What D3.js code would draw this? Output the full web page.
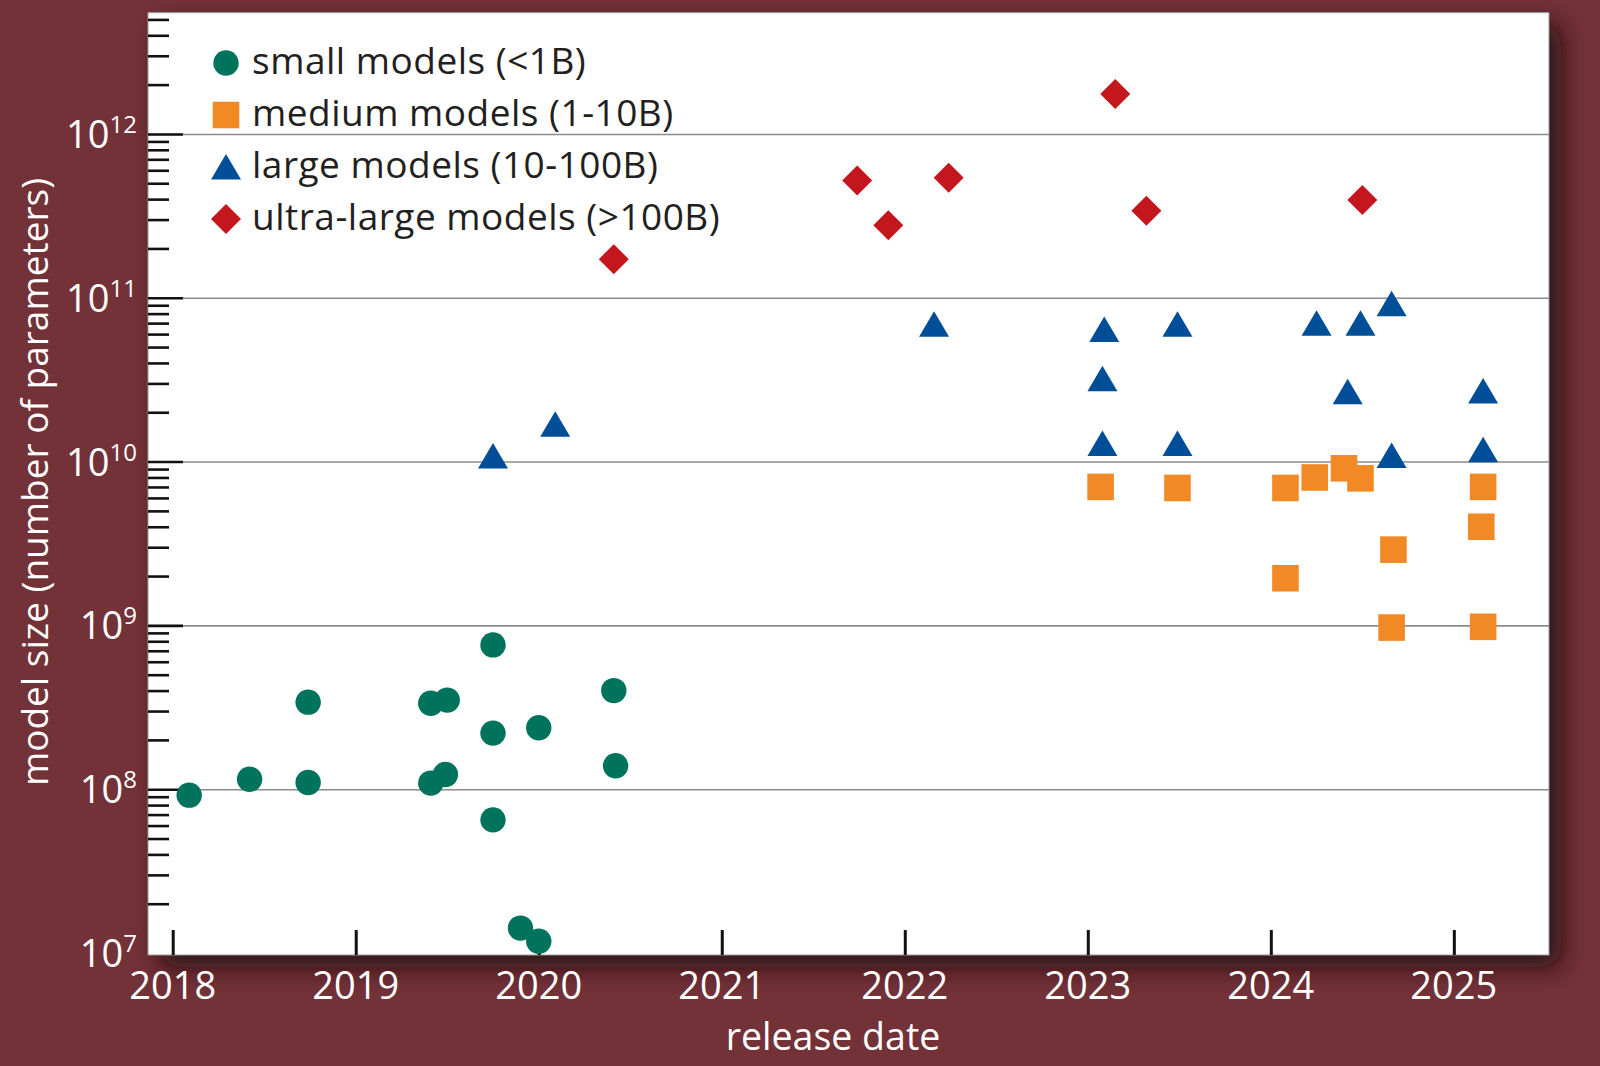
<!DOCTYPE html>
<html>
<head>
<meta charset="utf-8">
<script src="https://cdn.jsdelivr.net/npm/d3@7"></script>
<style>
  body { margin: 0; background: #733138; }
  svg { display: block; font-family: "Open Sans", sans-serif; }
</style>
</head>
<body>
<script>
// release date (decimal year), number of parameters
var smallModels = [
    [2018.09, 9.2e7], [2018.42, 1.15e8], [2018.74, 3.4e8], [2018.74, 1.1e8]
    , [2019.41, 3.35e8], [2019.50, 3.5e8], [2019.41, 1.09e8], [2019.49, 1.23e8]
    , [2019.75, 7.6e8], [2019.75, 2.2e8], [2019.75, 6.5e7], [2020.00, 2.37e8]
    , [2020.41, 4.0e8], [2020.42, 1.39e8], [2019.90, 1.42e7], [2020.00, 1.18e7]
];
var mediumModels = [
    [2023.07, 7.0e9], [2023.49, 6.9e9], [2024.08, 6.9e9], [2024.24, 8.0e9]
    , [2024.40, 9.1e9], [2024.49, 7.9e9], [2024.08, 1.94e9], [2024.67, 2.9e9]
    , [2024.66, 9.7e8], [2025.16, 7.0e9], [2025.15, 4.0e9], [2025.16, 9.8e8]
];
var largeModels = [
    [2019.75, 1.08e10], [2020.09, 1.69e10], [2022.16, 6.9e10], [2023.09, 6.4e10]
    , [2023.49, 6.9e10], [2023.08, 3.2e10], [2023.08, 1.29e10], [2023.49, 1.29e10]
    , [2024.25, 7.0e10], [2024.49, 7.0e10], [2024.66, 9.2e10], [2024.42, 2.67e10]
    , [2025.16, 2.7e10], [2024.66, 1.09e10], [2025.16, 1.18e10]
];
var ultraModels = [
    [2020.41, 1.72e11], [2021.74, 5.2e11], [2022.24, 5.4e11], [2021.91, 2.77e11]
    , [2023.15, 1.75e12], [2023.32, 3.4e11], [2024.50, 3.95e11]
];

var yearTicks = [2018, 2019, 2020, 2021, 2022, 2023, 2024, 2025];
var powerTicks = [7, 8, 9, 10, 11, 12];
var legendLabels = [
    'small models (<1B)'
    , 'medium models (1-10B)'
    , 'large models (10-100B)'
    , 'ultra-large models (>100B)'
];

var width = 1600, height = 1066;
var plotLeft = 148, plotRight = 1549, plotTop = 12.7, plotBottom = 955;

// marker shapes, centred on their bounding box
var shapes = {
    circle: function(p) { p.moveTo(12.7, 0); p.arc(0, 0, 12.7, 0, 2 * Math.PI); }
    , square: function(p) { p.rect(-13.3, -13.3, 26.6, 26.6); }
    , triangle: function(p) { p.moveTo(0, -13); p.lineTo(15, 12.5); p.lineTo(-15, 12.5); p.closePath(); }
    , diamond: function(p) { p.moveTo(0, -15); p.lineTo(15, 0); p.lineTo(0, 15); p.lineTo(-15, 0); p.closePath(); }
};
function shapePath(name) {
    var p = d3.path();
    shapes[name](p);
    return p.toString();
}

var series = [
    {data: smallModels, shape: 'circle', color: '#00735d'}
    , {data: mediumModels, shape: 'square', color: '#f18925'}
    , {data: largeModels, shape: 'triangle', color: '#004e97'}
    , {data: ultraModels, shape: 'diamond', color: '#c4171d'}
];

var x = d3.scaleLinear().domain([2017.865, 2025.52]).range([plotLeft, plotRight]);
var y = d3.scaleLog().domain([Math.pow(10, 6.988), Math.pow(10, 12.74)]).range([plotBottom, plotTop]);

var svg = d3.select('body').append('svg')
    .attr('width', width)
    .attr('height', height);

var defs = svg.append('defs');
var shadow = defs.append('filter')
    .attr('id', 'shadow')
    .attr('x', '-10%').attr('y', '-10%')
    .attr('width', '130%').attr('height', '130%');
shadow.append('feDropShadow')
    .attr('dx', 12).attr('dy', 12)
    .attr('stdDeviation', 12)
    .attr('flood-color', '#1c0709')
    .attr('flood-opacity', 0.85);

// plot panel
svg.append('rect')
    .attr('x', plotLeft).attr('y', plotTop)
    .attr('width', plotRight - plotLeft).attr('height', plotBottom - plotTop)
    .attr('fill', 'white')
    .attr('filter', 'url(#shadow)');
svg.append('rect')
    .attr('x', plotLeft).attr('y', plotTop)
    .attr('width', plotRight - plotLeft).attr('height', plotBottom - plotTop)
    .attr('fill', 'white')
    .attr('stroke', '#9a9a9a')
    .attr('stroke-width', 1);

var majors = powerTicks.map(function(p) { return Math.pow(10, p); });
var minors = y.ticks().filter(function(v) {
    var l = Math.log10(v);
    return Math.abs(l - Math.round(l)) > 1e-6;
});

// grid lines
svg.append('g')
    .attr('transform', 'translate(' + plotLeft + ',0)')
    .call(d3.axisRight(y).tickValues(majors.slice(1)).tickSize(plotRight - plotLeft).tickFormat(''))
    .call(function(g) {
        g.select('.domain').remove();
        g.selectAll('line').attr('stroke', '#8c8c8c').attr('stroke-width', 1.6);
    });

// minor and major ticks pointing into the panel
svg.append('g')
    .attr('transform', 'translate(' + plotLeft + ',0)')
    .call(d3.axisRight(y).tickValues(minors).tickSize(21).tickFormat(''))
    .call(function(g) {
        g.select('.domain').remove();
        g.selectAll('line').attr('stroke', '#111').attr('stroke-width', 2.6);
    });
svg.append('g')
    .attr('transform', 'translate(' + plotLeft + ',0)')
    .call(d3.axisRight(y).tickValues(majors.slice(1)).tickSize(35).tickFormat(''))
    .call(function(g) {
        g.select('.domain').remove();
        g.selectAll('line').attr('stroke', '#111').attr('stroke-width', 2.6);
    });

// year ticks
svg.append('g')
    .attr('transform', 'translate(0,' + plotBottom + ')')
    .call(d3.axisTop(x).tickValues(yearTicks).tickSize(25).tickFormat(''))
    .call(function(g) {
        g.select('.domain').remove();
        g.selectAll('line').attr('stroke', '#111').attr('stroke-width', 3);
    });

// tick labels
svg.append('g').selectAll('text')
    .data(yearTicks)
    .enter()
    .append('text')
    .attr('x', function(d) { return x(d); })
    .attr('y', 999)
    .attr('text-anchor', 'middle')
    .attr('fill', 'white')
    .style('font-size', '38px')
    .text(function(d) { return d; });

var yLabels = svg.append('g').selectAll('text')
    .data(powerTicks)
    .enter()
    .append('text')
    .attr('x', 137)
    .attr('y', function(d) { return y(Math.pow(10, d)) + 14; })
    .attr('text-anchor', 'end')
    .attr('fill', 'white')
    .style('font-size', '38px');
yLabels.append('tspan').text('10');
yLabels.append('tspan')
    .attr('dy', -15)
    .style('font-size', '24px')
    .text(function(d) { return d; });

// axis titles
svg.append('text')
    .attr('x', 833).attr('y', 1050)
    .attr('text-anchor', 'middle')
    .attr('fill', 'white')
    .style('font-size', '37.5px')
    .text('release date');
svg.append('text')
    .attr('transform', 'translate(48,482) rotate(-90)')
    .attr('text-anchor', 'middle')
    .attr('fill', 'white')
    .style('font-size', '37px')
    .text('model size (number of parameters)');

// points
series.forEach(function(s) {
    svg.append('g').selectAll('path')
        .data(s.data)
        .enter()
        .append('path')
        .attr('d', shapePath(s.shape))
        .attr('transform', function(d) { return 'translate(' + x(d[0]) + ',' + y(d[1]) + ')'; })
        .attr('fill', s.color);
});

// legend
var legend = svg.append('g').selectAll('g')
    .data(series)
    .enter()
    .append('g')
    .attr('transform', function(d, i) { return 'translate(226,' + (63 + i * 52) + ')'; });
legend.append('path')
    .attr('d', function(d) { return shapePath(d.shape); })
    .attr('fill', function(d) { return d.color; });
legend.append('text')
    .attr('x', 26)
    .attr('y', 11)
    .attr('fill', '#231f20')
    .style('font-size', '37px')
    .style('letter-spacing', '0.5px')
    .text(function(d, i) { return legendLabels[i]; });
</script>
</body>
</html>
